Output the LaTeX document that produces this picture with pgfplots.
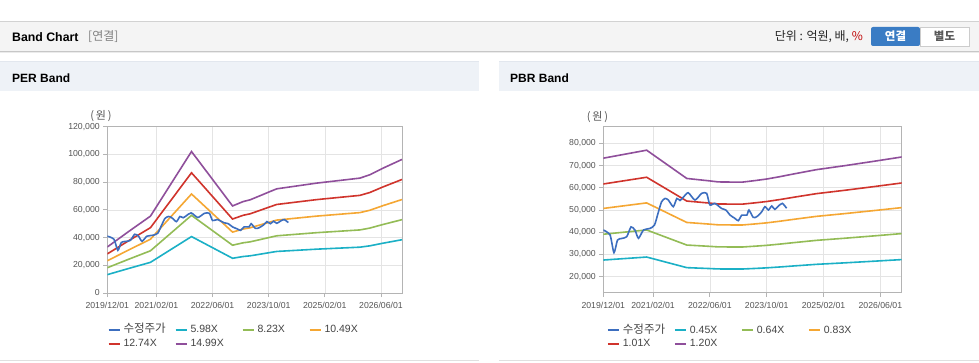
\documentclass[border=0pt]{standalone}
\usepackage{fontspec}
\setmainfont{Liberation Sans}
\newfontfamily\kr{Noto Sans CJK KR}
\usepackage{pgfplots}
\usepackage{pgfplotstable}
\pgfplotsset{compat=1.18}
\definecolor{cPrice}{HTML}{3C6EBF}
\definecolor{cCyan}{HTML}{1BB0C6}
\definecolor{cGreen}{HTML}{93BC56}
\definecolor{cOrange}{HTML}{F5A733}
\definecolor{cRed}{HTML}{D0342C}
\definecolor{cPurple}{HTML}{8F4F9B}
\definecolor{gridc}{HTML}{E4E4E4}
\definecolor{axisc}{HTML}{B4B4B4}
\definecolor{tickc}{HTML}{555555}
\definecolor{legc}{HTML}{444444}
\definecolor{hdrbg}{HTML}{F4F4F4}
\definecolor{hdrline}{HTML}{D2D2D2}
\definecolor{panelbg}{HTML}{EEF2F7}
\definecolor{panelline}{HTML}{E2E7EE}
\definecolor{btnblue}{HTML}{3A7CC4}

\pgfplotstableread{
m price
0 41000
1.9 38800
3.0 30800
4.0 36500
5.2 37200
6.6 38000
7.8 42400
8.9 41000
9.9 37300
11.3 41000
13.1 41700
14.4 43200
15.4 48500
16.4 53700
17.4 55200
18.3 54500
19.7 51500
20.7 55200
21.6 54300
22.5 55700
23.9 57800
25.8 54500
27.7 57500
29.1 57500
30.0 52300
31.4 53000
33.3 50700
34.5 50000
35.7 47700
37.0 46300
38.0 45200
39.0 47700
40.4 47700
41.0 50000
42.2 46700
43.2 47000
44.6 49200
45.5 51500
46.5 50000
47.4 51800
48.3 50300
49.3 51800
50.4 53000
51.6 50800
}\pricetab

\pgfplotstableread{
m c g o r p
0 13240 18221 23225 28206 33188
6 17641 24279 30946 37583 44221
12.3 22126 30451 38813 47138 55463
24 40724 56046 71437 86759 102082
35.7 25056 34484 43953 53381 62808
38.7 26312 36212 46156 56056 65956
40.7 26820 36912 47048 57139 67230
43.5 27986 38516 49093 59623 70153
46.4 29212 40204 51244 62235 73226
48.3 29990 41273 52607 63891 75175
59.7 31634 43537 55492 67395 79297
72 33069 45512 58010 70452 82895
74.8 34026 46829 59688 72491 85293
78.6 35940 49462 63045 76567 90090
84 38451 52919 67451 81918 96386
}\pertab

\pgfplotstableread{
m c g o r p
0 27495 39104 50713 61711 73320
12.2 28845 41024 53203 64741 76920
23.5 24075 34240 44405 54035 64200
29.6 23688 33690 43691 53166 63168
32.4 23490 33408 43326 52722 62640
39 23445 33344 43243 52621 62520
42.7 23715 33728 43741 53227 63240
46 23981 34106 44231 53823 63948
49.7 24377 34669 44961 54712 65004
53.5 24827 35309 45791 55722 66204
60 25560 36352 47144 57368 68160
68 26235 37312 48389 58883 69960
76 26955 38336 49717 60499 71880
84 27698 39392 51087 62166 73860
}\pbrtab

\pgfplotsset{
  bandaxis/.style={
    scale only axis, anchor=south west,
    xmin=0, xmax=84,
    xtick={0,14,30,46,62,78},
    xticklabels={2019/12/01,2021/02/01,2022/06/01,2023/10/01,2025/02/01,2026/06/01},
    grid=major, major grid style={color=gridc, line width=0.6pt},
    axis line style={color=axisc, line width=0.8pt},
    tick style={color=axisc, line width=0.8pt},
    major tick length=4pt, tick align=outside, tick pos=left,
    tick label style={font=\fontsize{8.7}{10}\selectfont, text=tickc},
    xticklabel style={yshift=-1.5pt},
    scaled y ticks=false,
    legend columns=4,
    legend cell align=left,
    legend style={draw=none, fill=none, inner sep=0pt, column sep=0pt, anchor=north west,
       font=\fontsize{10.5}{12}\selectfont, text=legc,
       nodes={inner xsep=3pt, inner ysep=1.5pt, text height=8pt, text depth=2.5pt, text width=48pt, text=legc}},
    legend image code/.code={\draw[##1, line width=2pt] (0pt,0pt) -- (11pt,0pt);},
    every axis plot/.append style={line width=1.6pt, no markers},
    yticklabel style={/pgf/number format/.cd, fixed, 1000 sep={,}, assume math mode=true},
  }
}

\begin{document}
\begin{tikzpicture}[x=1pt,y=1pt]
\useasboundingbox (0,0) rectangle (979,362);
\fill[white] (0,0) rectangle (979,362);
% top header
\fill[hdrbg] (0,310) rectangle (979,340);
\draw[hdrline, line width=1pt] (0,340) -- (979,340);
\draw[black!22, line width=1pt] (0,310) -- (979,310);
\draw[black!8, line width=1pt] (0,309) -- (979,309);
\node[anchor=west, inner sep=0pt] at (12,325) {\fontsize{12.3}{14}\selectfont\bfseries Band Chart};
\node[anchor=west, inner sep=0pt, text=black!50] at (88,325) {\kr\fontsize{12}{14}\selectfont [연결]};
\node[anchor=east, inner sep=0pt, text=black!85] at (863,325) {\kr\fontsize{12}{14}\selectfont 단위 : 억원, 배, \textcolor{red!75!black}{\%}};
\fill[btnblue, rounded corners=2pt] (871,316) rectangle (920,335);
\draw[black!20, fill=white] (920,316) rectangle (969,335);
\node[text=white, inner sep=0pt] at (895.5,325.5) {\kr\fontsize{11.5}{13}\selectfont\bfseries 연결};
\node[text=black!65, inner sep=0pt] at (944.5,325.5) {\kr\fontsize{11.5}{13}\selectfont\bfseries 별도};
% panel headers
\fill[panelbg] (0,271) rectangle (479,300);
\draw[panelline, line width=1pt] (0,300) -- (479,300);
\fill[panelbg] (499,271) rectangle (979,300);
\draw[panelline, line width=1pt] (499,300) -- (979,300);
\node[anchor=west, inner sep=0pt] at (12,284) {\fontsize{12}{14}\selectfont\bfseries PER Band};
\node[anchor=west, inner sep=0pt] at (510,284) {\fontsize{12}{14}\selectfont\bfseries PBR Band};
% bottom lines
\draw[black!12, line width=1pt] (0,1.5) -- (479,1.5);
\draw[black!12, line width=1pt] (499,1.5) -- (979,1.5);
% unit labels
\node[text=tickc, inner sep=0pt] at (101,246) {\kr\fontsize{11}{13}\selectfont (\,원\,)};
\node[text=tickc, inner sep=0pt] at (597.5,245) {\kr\fontsize{11}{13}\selectfont (\,원\,)};

% PER axis
\begin{axis}[bandaxis, at={(107.3pt,69pt)}, width=294.7pt, height=166.3pt,
  ymin=0, ymax=120000, ytick={0,20000,40000,60000,80000,100000,120000},
  legend style={at={(0,-0.182)}}]
\addlegendimage{cPrice}\addlegendentry{\kr\fontsize{11.5}{12}\selectfont 수정주가}
\addplot[cCyan] table[x=m,y=c] {\pertab};\addlegendentry{5.98X}
\addplot[cGreen] table[x=m,y=g] {\pertab};\addlegendentry{8.23X}
\addplot[cOrange] table[x=m,y=o] {\pertab};\addlegendentry{10.49X}
\addplot[cRed] table[x=m,y=r] {\pertab};\addlegendentry{12.74X}
\addplot[cPurple] table[x=m,y=p] {\pertab};\addlegendentry{14.99X}
\addplot[cPrice, smooth, tension=0.4, forget plot] table[x=m,y=price] {\pricetab};
\end{axis}

% PBR axis
\begin{axis}[bandaxis, at={(603.3pt,69.3pt)}, width=298.4pt, height=166.7pt,
  ymin=12800, ymax=87800, ytick={20000,30000,40000,50000,60000,70000,80000},
  legend style={at={(0.0114,-0.1836)}}]
\addlegendimage{cPrice}\addlegendentry{\kr\fontsize{11.5}{12}\selectfont 수정주가}
\addplot[cCyan] table[x=m,y=c] {\pbrtab};\addlegendentry{0.45X}
\addplot[cGreen] table[x=m,y=g] {\pbrtab};\addlegendentry{0.64X}
\addplot[cOrange] table[x=m,y=o] {\pbrtab};\addlegendentry{0.83X}
\addplot[cRed] table[x=m,y=r] {\pbrtab};\addlegendentry{1.01X}
\addplot[cPurple] table[x=m,y=p] {\pbrtab};\addlegendentry{1.20X}
\addplot[cPrice, smooth, tension=0.4, forget plot] table[x=m,y=price] {\pricetab};
\end{axis}
\end{tikzpicture}
\end{document}
